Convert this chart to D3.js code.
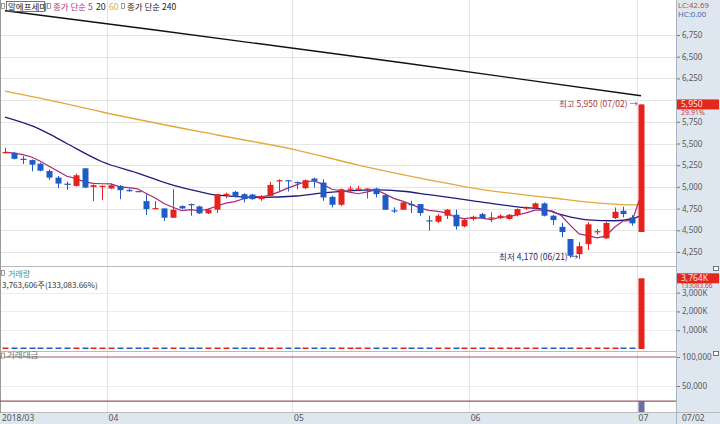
<!DOCTYPE html>
<html><head><meta charset="utf-8">
<script src="https://cdn.jsdelivr.net/npm/d3@7"></script>
<style>html,body{margin:0;padding:0;background:#fff;overflow:hidden}
svg{display:block;font-family:"Noto Sans CJK KR","Noto Sans",sans-serif}</style>
</head><body><svg id="c" width="720" height="424"></svg>
<script>
// ---------- DATA ----------
const dates = [
 "2018/03/15","2018/03/16","2018/03/19","2018/03/20","2018/03/21","2018/03/22","2018/03/23","2018/03/26","2018/03/27","2018/03/28","2018/03/29","2018/03/30",
 "2018/04/02","2018/04/03","2018/04/04","2018/04/05","2018/04/06","2018/04/09","2018/04/10","2018/04/11","2018/04/12","2018/04/13","2018/04/16","2018/04/17","2018/04/18","2018/04/19","2018/04/20","2018/04/23","2018/04/24","2018/04/25","2018/04/26","2018/04/27","2018/04/30",
 "2018/05/02","2018/05/03","2018/05/04","2018/05/08","2018/05/09","2018/05/10","2018/05/11","2018/05/14","2018/05/15","2018/05/16","2018/05/17","2018/05/18","2018/05/21","2018/05/23","2018/05/24","2018/05/25","2018/05/28","2018/05/29","2018/05/30","2018/05/31",
 "2018/06/01","2018/06/04","2018/06/05","2018/06/07","2018/06/08","2018/06/11","2018/06/12","2018/06/14","2018/06/15","2018/06/18","2018/06/19","2018/06/20","2018/06/21","2018/06/22","2018/06/25","2018/06/26","2018/06/27","2018/06/28","2018/06/29",
 "2018/07/02"];
const opens = [
 5395,5393,5324,5309,5267,5183,5107,5038,5011,5214,
 4999,5008,4981,5011,4966,4952,4836,4752,4752,4645,
 4779,4802,4775,4695,4737,4910,4943,4916,4912,4859,
 4897,5070,5077,5057,4985,5096,5050,4885,4794,4973,
 4973,4975,4981,4905,4730,4737,4802,4802,4615,4599,
 4668,4679,4546,4630,4687,4645,4641,4630,4675,4756,
 4752,4810,4668,4540,4400,4225,4340,4480,4408,4641,
 4725,4649,4480];
const highs = [
 5450,5405,5355,5316,5279,5202,5126,5061,5153,5214,
 5030,5019,5038,5022,4981,4955,4916,4836,4752,4973,
 4787,4808,4783,4745,4916,4935,4954,4927,4920,4905,
 5057,5088,5077,5061,5088,5107,5088,4897,4981,5011,
 5011,4985,4992,4916,4764,4829,4840,4802,4668,4687,
 4744,4737,4630,4668,4699,4706,4683,4687,4752,4775,
 4821,4821,4679,4584,4400,4363,4595,4515,4600,4763,
 4771,4675,5950];
const lows = [
 5385,5317,5263,5179,5179,5080,4985,4966,5004,4985,
 4836,4847,4973,4859,4946,4946,4675,4748,4607,4645,
 4745,4668,4688,4688,4699,4870,4878,4821,4852,4840,
 4890,4939,4947,4973,4973,4992,4840,4763,4782,4947,
 4954,4866,4878,4737,4699,4737,4699,4668,4496,4584,
 4630,4508,4534,4611,4630,4595,4630,4622,4660,4737,
 4744,4660,4561,4420,4185,4170,4275,4450,4400,4630,
 4649,4553,4480];
const closes = [
 5402,5324,5313,5256,5187,5107,5038,5023,5134,4992,
 5019,5012,5019,4962,4950,4948,4744,4756,4645,4737,
 4752,4798,4695,4737,4916,4920,4885,4859,4859,4897,
 5023,5077,5073,5046,5077,5069,4878,4794,4973,4981,
 4981,4981,4916,4737,4725,4821,4795,4699,4605,4668,
 4737,4546,4622,4656,4641,4649,4668,4679,4744,4763,
 4810,4668,4618,4480,4207,4317,4569,4490,4584,4714,
 4687,4580,5950];
const volumes = [
 12000,15000,8000,21000,18000,25000,19000,9000,30000,42000,
 16000,11000,14000,17000,7000,5000,26000,9000,22000,38000,
 8000,12000,15000,10000,35000,9000,11000,14000,8000,10000,
 28000,13000,9000,8000,24000,10000,31000,20000,29000,7000,
 6000,9000,12000,27000,8000,15000,9000,18000,16000,12000,
 14000,25000,11000,6000,9000,5000,4000,7000,13000,4000,
 12000,21000,15000,24000,36000,22000,40000,6000,23000,15000,
 9000,2828,3763606];
const volumeRatioPct = 133083.66;   // shown in legend / axis box
const tradeValues = [ // 백만원
 65,81,42,110,94,128,96,45,154,210,
 80,55,70,84,35,25,123,43,102,180,
 38,57,70,47,172,44,53,68,39,49,
 141,66,46,40,122,51,151,96,144,35,
 30,44,59,128,38,72,43,85,74,56,
 66,114,50,28,42,23,19,33,61,19,
 58,99,70,108,152,95,183,27,105,71,
 42,13,24000];
const ma5Head = [5400,5390,5372,5345];           // first MA5 values
const ma20Pts = [[0,5805],[3,5705],[5,5610],[7,5500],[11,5290],[15,5160],[19,5021],[22,4945],[24,4905],[29,4880],[33,4895],[36,4930],[42,4965],[45,4950],[48,4910],[53,4840],[58,4770],[61,4740],[63,4680],[66,4620],[69,4610],[71,4635],[72,4670]];
const ma60Pts = [[0,6105],[5,6001],[11,5863],[24,5598],[33,5425],[40,5252],[49,5062],[53,4987],[62,4872],[67,4815],[71,4792],[72,4798]];
const ma240Pts = [[0,7030],[17,6808],[45,6430],[72,6050]];
const priceTicks = [4250,4500,4750,5000,5250,5500,5750,6000,6250,6500,6750];
const volTicks = [1000000,2000000,3000000];
const valTicks = [50000,100000];
const monthLabels = ["2018/03","04","05","06","07"];

// ---------- CHART ----------
const svg = d3.select('#c');
const W = 720, H = 424, PR = 676;
const RED = '#e5231c', BLUE = '#1f5cc6';
const n = dates.length;
const x = d3.scalePoint().domain(d3.range(n)).range([5, 641]);
const bw = 6;
const yP = d3.scaleLinear().domain([4250, 6750]).range([252, 35]);
const yV = d3.scaleLinear().domain([0, 3763606]).range([349, 278.3]);
const yT = d3.scaleLinear().domain([0, 100000]).range([415, 357]);
const NUMF = '"Noto Sans","DejaVu Sans",sans-serif';

svg.append('rect').attr('width', W).attr('height', H).attr('fill', '#fff');
svg.append('rect').attr('x', PR).attr('y', 0).attr('width', W - PR).attr('height', H).attr('fill', '#dee6ef');
svg.append('rect').attr('x', 0).attr('y', 413).attr('width', W).attr('height', 11).attr('fill', '#dee6ef');

const defs = svg.append('defs');
defs.append('clipPath').attr('id', 'cp').append('rect').attr('x', 0).attr('y', 0).attr('width', PR).attr('height', 265);
defs.append('clipPath').attr('id', 'cv').append('rect').attr('x', 0).attr('y', 267).attr('width', PR).attr('height', 83);
defs.append('clipPath').attr('id', 'ct').append('rect').attr('x', 0).attr('y', 352).attr('width', PR).attr('height', 60);

// month boundaries
const monthStarts = [0];
for (let i = 1; i < n; i++) if (dates[i].slice(5, 7) !== dates[i - 1].slice(5, 7)) monthStarts.push(i);
const gridX = monthStarts.map(i => i === 0 ? null : (x(i - 1) + x(i)) / 2);

// gridlines
const g = svg.append('g');
g.selectAll('.hg').data(priceTicks).join('line')
  .attr('x1', 0).attr('x2', PR).attr('y1', d => Math.round(yP(d)) + .5).attr('y2', d => Math.round(yP(d)) + .5)
  .attr('stroke', '#e6e6e6');
g.selectAll('.vg').data(volTicks).join('line')
  .attr('x1', 0).attr('x2', PR).attr('y1', d => Math.round(yV(d)) + .5).attr('y2', d => Math.round(yV(d)) + .5)
  .attr('stroke', '#ececec');
g.append('line').attr('x1', 0).attr('x2', PR).attr('y1', Math.round(yT(50000)) + .5).attr('y2', Math.round(yT(50000)) + .5).attr('stroke', '#ececec');
gridX.filter(v => v !== null).forEach(v => {
  g.append('line').attr('x1', Math.round(v) + .5).attr('x2', Math.round(v) + .5).attr('y1', 0).attr('y2', 413).attr('stroke', '#e3e3e3');
});

// panel separators
const sep = svg.append('g').attr('stroke', '#b9b9b9');
sep.append('line').attr('x1', 0).attr('x2', PR).attr('y1', 266.5).attr('y2', 266.5);
sep.append('line').attr('x1', 0).attr('x2', PR).attr('y1', 351.5).attr('y2', 351.5);
sep.append('line').attr('x1', 0).attr('x2', W).attr('y1', 412.5).attr('y2', 412.5);
sep.append('line').attr('x1', 0.5).attr('x2', 0.5).attr('y1', 0).attr('y2', 413).attr('stroke', '#999');
sep.append('line').attr('x1', PR + .5).attr('x2', PR + .5).attr('y1', 0).attr('y2', H).attr('stroke', '#aab5c3');

// moving averages
const ma5 = closes.map((c, i) => i < 4 ? [i, ma5Head[i]] : [i, d3.mean(closes.slice(i - 4, i + 1))]);
const line = d3.line().x(d => x(d[0])).y(d => yP(d[1])).curve(d3.curveMonotoneX);
const pp = svg.append('g').attr('clip-path', 'url(#cp)');
pp.append('path').attr('d', line(ma240Pts)).attr('fill', 'none').attr('stroke', '#111').attr('stroke-width', 1.4);
pp.append('path').attr('d', line(ma60Pts)).attr('fill', 'none').attr('stroke', '#e4a83e').attr('stroke-width', 1.3);
pp.append('path').attr('d', line(ma20Pts)).attr('fill', 'none').attr('stroke', '#1d1d7a').attr('stroke-width', 1.3);
pp.append('path').attr('d', d3.line().x(d => x(d[0])).y(d => yP(d[1]))(ma5)).attr('fill', 'none').attr('stroke', '#a8287e').attr('stroke-width', 1.2);

// candles
const cg = pp.selectAll('.c').data(d3.range(n)).join('g');
const col = i => closes[i] >= opens[i] ? RED : BLUE;
cg.append('line').attr('x1', i => Math.round(x(i)) + .5).attr('x2', i => Math.round(x(i)) + .5)
  .attr('y1', i => yP(highs[i])).attr('y2', i => yP(lows[i])).attr('stroke', col).attr('stroke-width', 1);
cg.append('rect').attr('x', i => Math.round(x(i)) + .5 - bw / 2).attr('width', bw)
  .attr('y', i => yP(Math.max(opens[i], closes[i])))
  .attr('height', i => Math.max(1.2, Math.abs(yP(opens[i]) - yP(closes[i]))))
  .attr('fill', col);

// volume bars
const vg = svg.append('g').attr('clip-path', 'url(#cv)');
vg.selectAll('rect').data(d3.range(n)).join('rect')
  .attr('x', i => Math.round(x(i)) + .5 - bw / 2).attr('width', bw)
  .attr('y', i => Math.min(yV(volumes[i]), 347.5))
  .attr('height', i => 349 - Math.min(yV(volumes[i]), 347.5))
  .attr('fill', col);

// trade value panel
const tg = svg.append('g').attr('clip-path', 'url(#ct)');
tg.append('line').attr('x1', 0).attr('x2', PR).attr('y1', yT(100000)).attr('y2', yT(100000)).attr('stroke', '#9a5a5a').attr('stroke-width', 1.2);
tg.selectAll('rect').data(d3.range(n)).join('rect')
  .attr('x', i => Math.round(x(i)) + .5 - bw / 2).attr('width', bw)
  .attr('y', i => yT(tradeValues[i])).attr('height', i => 415 - yT(tradeValues[i]))
  .attr('fill', '#6c6ca6');
tg.append('line').attr('x1', 0).attr('x2', PR).attr('y1', yT(tradeValues[n - 1])).attr('y2', yT(tradeValues[n - 1])).attr('stroke', '#9a5a5a').attr('stroke-width', 1.2);

// right axes
const last = n - 1;
function styleAxis(sel) {
  sel.select('.domain').remove();
  sel.selectAll('.tick line').attr('stroke', '#777');
  sel.selectAll('.tick text').attr('fill', '#5a5a5a').attr('font-size', 8).attr('font-family', NUMF).attr('x', 5);
}
// the 6,000 label sits under the current-price box, as in the reference
svg.append('g').attr('transform', `translate(${PR + 1},0)`)
  .call(d3.axisRight(yP).tickValues(priceTicks).tickSize(3)
    .tickFormat(d => Math.abs(yP(d) - yP(closes[last])) < 8 ? '' : d3.format(',')(d))).call(styleAxis);
svg.append('g').attr('transform', `translate(${PR + 1},0)`)
  .call(d3.axisRight(yV).tickValues(volTicks).tickSize(3).tickFormat(d => d3.format(',')(d / 1000) + 'K')).call(styleAxis);
svg.append('g').attr('transform', `translate(${PR + 1},0)`)
  .call(d3.axisRight(yT).tickValues(valTicks).tickSize(3).tickFormat(d3.format(','))).call(styleAxis);

// current value boxes
const pyl = yP(closes[last]);
svg.append('rect').attr('x', PR + 1).attr('y', pyl - 5).attr('width', 42).attr('height', 10).attr('fill', '#e2271d');
svg.append('text').attr('x', PR + 5).attr('y', pyl + 3).attr('fill', '#ffe0e0').attr('font-size', 8.5).attr('font-family', NUMF).text(d3.format(',')(closes[last]));
svg.append('text').attr('x', PR + 5).attr('y', pyl + 11).attr('fill', '#d63a3a').attr('font-size', 7).attr('font-family', NUMF)
  .text(d3.format('.2f')((closes[last] / closes[last - 1] - 1) * 100) + '%');
const vyl = yV(volumes[last]);
svg.append('rect').attr('x', PR + 1).attr('y', vyl - 5).attr('width', 42).attr('height', 10).attr('fill', '#e2271d');
svg.append('text').attr('x', PR + 5).attr('y', vyl + 3).attr('fill', '#ffe0e0').attr('font-size', 8.5).attr('font-family', NUMF).text(d3.format(',')(Math.round(volumes[last] / 1000)) + 'K');
svg.append('text').attr('x', PR + 5).attr('y', vyl + 9.8).attr('fill', '#d63a3a').attr('font-size', 6.5).attr('font-family', NUMF).text(d3.format('.2f')(volumeRatioPct));

svg.append('text').attr('x', PR + 2).attr('y', 8).attr('fill', '#c04848').attr('font-size', 7.8).attr('font-family', NUMF).text('LC:42.69');
svg.append('text').attr('x', PR + 2).attr('y', 17).attr('fill', '#4a68a8').attr('font-size', 7.8).attr('font-family', NUMF).text('HC:0.00');
// small panel icons
[266, 351].forEach(yy => {
  svg.append('rect').attr('x', 713.5).attr('y', yy + 0.5).attr('width', 5).attr('height', 4).attr('fill', '#fff').attr('stroke', '#555').attr('stroke-width', 0.8);
});

// x labels
const xl = svg.append('g').attr('font-size', 8.5).attr('fill', '#555').attr('font-family', NUMF);
monthStarts.forEach((i, k) => {
  const xx = k === 0 ? 2 : gridX[k] + 2;
  xl.append('text').attr('x', xx).attr('y', 421).text(monthLabels[k]);
});
xl.append('text').attr('x', PR + 6).attr('y', 421).text(dates[last].slice(5));

// annotations
const hiIdx = d3.maxIndex(highs), loIdx = d3.minIndex(lows);
svg.append('text').attr('x', x(hiIdx) - 3).attr('y', yP(highs[hiIdx]) + 3).attr('text-anchor', 'end')
  .attr('font-size', 8.5).attr('fill', '#a23a3a')
  .text(`최고 ${d3.format(',')(highs[hiIdx])} (${dates[hiIdx].slice(5)}) →`);
svg.append('text').attr('x', x(loIdx) - 1).attr('y', yP(lows[loIdx]) + 1).attr('text-anchor', 'end')
  .attr('font-size', 8.5).attr('fill', '#26266e')
  .text(`최저 ${d3.format(',')(lows[loIdx])} (${dates[loIdx].slice(5)}) →`);

// legends
function icon(xx, yy) {
  svg.append('rect').attr('x', xx).attr('y', yy).attr('width', 3).attr('height', 5).attr('fill', '#fff').attr('stroke', '#777').attr('stroke-width', 0.7);
}
const lg = svg.append('g').attr('font-size', 8.5);
icon(1.5, 3.5);
lg.append('rect').attr('x', 6.5).attr('y', 1.5).attr('width', 38).attr('height', 10).attr('fill', 'none').attr('stroke', '#555').attr('stroke-width', 0.8);
lg.append('text').attr('x', 8).attr('y', 10).attr('fill', '#222').text('알에프세미');
icon(47.5, 3.5);
lg.append('text').attr('x', 53).attr('y', 10).attr('fill', '#b0367f').text('종가 단순 5');
lg.append('text').attr('x', 96).attr('y', 10).attr('fill', '#222').attr('font-family', NUMF).text('20');
lg.append('text').attr('x', 109).attr('y', 10).attr('fill', '#e4a83e').attr('font-family', NUMF).text('60');
icon(121.5, 3.5);
lg.append('text').attr('x', 127).attr('y', 10).attr('fill', '#222').text('종가 단순 240');

icon(1.5, 270.5);
svg.append('text').attr('x', 8).attr('y', 276.5).attr('font-size', 8).attr('fill', '#4b8c98').text('거래량');
svg.append('text').attr('x', 2).attr('y', 288).attr('font-size', 8).attr('fill', '#333')
  .text(`${d3.format(',')(volumes[last])}주(${d3.format(',.2f')(volumeRatioPct)}%)`);
icon(1.5, 353);
svg.append('text').attr('x', 7).attr('y', 358).attr('font-size', 8.5).attr('fill', '#777').text('거래대금');
</script></body></html>
